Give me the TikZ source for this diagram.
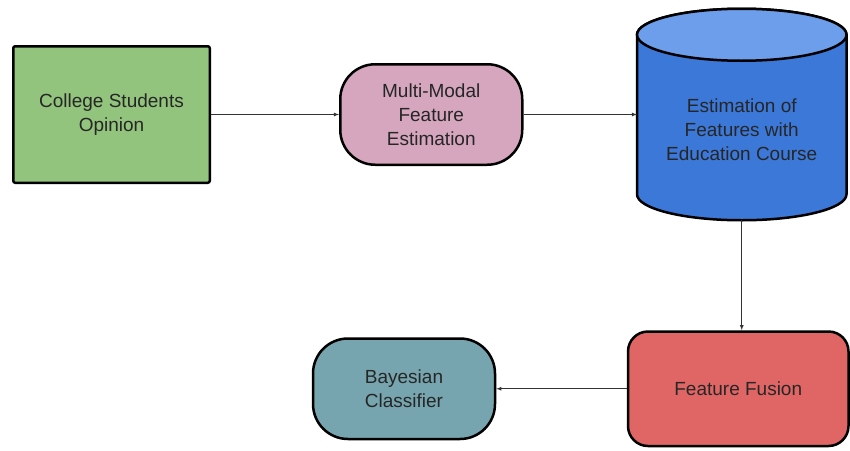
\documentclass[tikz,border=0pt]{standalone}
\usepackage{fontspec}
\setmainfont{Liberation Sans}
\usepackage{tikz}
\usetikzlibrary{shapes,arrows,positioning,calc}

\definecolor{boxgreen}{HTML}{93C47D}
\definecolor{boxpink}{HTML}{D5A6BD}
\definecolor{boxblue}{HTML}{3C78D8}
\definecolor{boxbluetop}{HTML}{6D9EEB}
\definecolor{boxred}{HTML}{E06666}
\definecolor{boxteal}{HTML}{76A5AF}

\begin{document}
\begin{tikzpicture}[
  x=1pt, y=-1pt,
  block/.style={draw=black, line width=2.5pt, align=center, text=black!85,
    font=\fontsize{19}{24}\selectfont, inner sep=0pt},
  txt/.style={align=center, text=black!85, font=\fontsize{19}{24}\selectfont, inner sep=0pt},
  pill/.style={block, rounded corners=35pt, minimum width=182pt, minimum height=100.5pt},
  flow/.style={->, black!80, line width=0.8pt},
  >=latex
]
  \useasboundingbox (0,0) rectangle (850,450);

  % Top row
  \node[block, fill=boxgreen, rounded corners=2pt, minimum width=196.5pt, minimum height=136.5pt]
    (Opinion) at (111.5,114.5) {College Students\\Opinion};
  \node[pill, fill=boxpink, right=128pt of Opinion] (MultiModal) {Multi-Modal\\Feature\\Estimation};
  \node[minimum width=209.5pt, minimum height=211.5pt, outer sep=0pt, inner sep=0pt,
    right=113.5pt of MultiModal] (Course) {};

  % Cylinder body and lid
  \draw[line width=2.5pt, fill=boxblue] ($(Course.north west)+(0,26)$) -- ($(Course.south west)+(0,-26)$)
    arc[start angle=180, end angle=360, x radius=104.75pt, y radius=26pt]
    -- ($(Course.north east)+(0,26)$)
    arc[start angle=0, end angle=180, x radius=104.75pt, y radius=26pt] -- cycle;
  \draw[line width=2.5pt, fill=boxbluetop] ($(Course.north)+(0,26)$) ellipse[x radius=104.75pt, y radius=26pt];
  \node[txt, yshift=-15pt] (CourseText) at (Course.center) {Estimation of\\Features with\\Education Course};

  % Bottom row
  \node[block, fill=boxred, rounded corners=20pt, minimum width=220.5pt, minimum height=114.5pt,
    below=110pt of Course, xshift=-3.5pt] (Fusion) {Feature Fusion};
  \node[pill, fill=boxteal, left=130.5pt of Fusion] (Bayes) {Bayesian\\Classifier};

  % Flow
  \draw[flow] (Opinion) -- (MultiModal);
  \draw[flow] (MultiModal) -- (Course);
  \draw[flow] (Course.south) -- (Course.south |- Fusion.north);
  \draw[flow] (Fusion) -- (Bayes);

\end{tikzpicture}
\end{document}
